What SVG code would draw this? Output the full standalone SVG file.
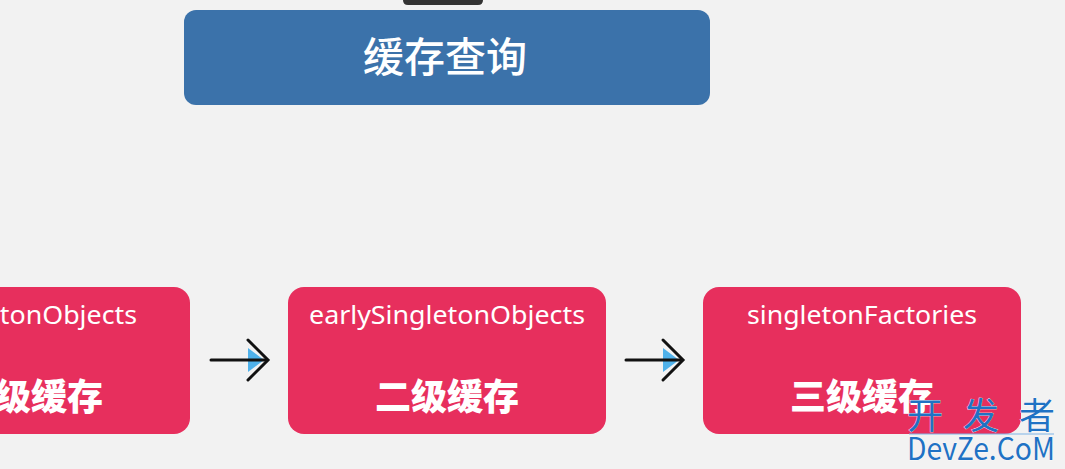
<svg xmlns="http://www.w3.org/2000/svg" width="1065" height="469" viewBox="0 0 1065 469">
<style>
.bg{fill:#f2f2f2}
.red{fill:#e72f5d}
.lbl{font-family:"Noto Sans","Liberation Sans","Noto Sans CJK SC",sans-serif;font-size:26px;fill:#fff;text-anchor:middle}
.big{font-family:"Noto Sans CJK SC","Noto Sans",sans-serif;font-size:36px;font-weight:900;fill:#fff;text-anchor:middle}
.ln{stroke:#111;stroke-width:3;fill:none;stroke-linecap:round;stroke-linejoin:miter}
.tri{fill:#4fb1ea}
.wm{font-family:"Noto Sans CJK SC","Noto Sans",sans-serif;fill:#1f72c4;stroke:#fff;stroke-width:0.6;paint-order:stroke}
</style>
<rect class="bg" x="0" y="0" width="1065" height="469"/>
<path d="M403 0 H483 V0 Q483 5 478 5 H408 Q403 5 403 0 Z" fill="#333"/>
<g id="title">
<rect x="184" y="10" width="526" height="95" rx="12" fill="#3b72aa"/>
<text x="445" y="72" font-family="Noto Sans CJK SC,sans-serif" font-size="41" font-weight="500" fill="#fff" text-anchor="middle">缓存查询</text>
</g>
<g id="node1">
<rect class="red" x="-128" y="287" width="318" height="147" rx="16"/>
<text class="lbl" x="31" y="324" textLength="212" lengthAdjust="spacingAndGlyphs">singletonObjects</text>
<text class="big" x="31" y="410">一级缓存</text>
</g>
<g id="node2">
<rect class="red" x="288" y="287" width="318" height="147" rx="16"/>
<text class="lbl" x="447" y="324" textLength="276" lengthAdjust="spacingAndGlyphs">earlySingletonObjects</text>
<text class="big" x="447" y="410">二级缓存</text>
</g>
<g id="node3">
<rect class="red" x="703" y="287" width="318" height="147" rx="16"/>
<text class="lbl" x="862" y="324" textLength="230" lengthAdjust="spacingAndGlyphs">singletonFactories</text>
<text class="big" x="862" y="410">三级缓存</text>
</g>
<g id="connectors">
<polygon class="tri" points="248,348 264,360 248,372"/>
<line class="ln" x1="211" y1="360" x2="267" y2="360"/>
<polyline class="ln" points="248,340 268,360 248,380"/>
<polygon class="tri" points="663,348 679,360 663,372"/>
<line class="ln" x1="626" y1="360" x2="682" y2="360"/>
<polyline class="ln" points="663,340 683,360 663,380"/>
</g>
<g id="watermark">
<text class="wm" x="907" y="429" font-size="36" textLength="148" lengthAdjust="spacing">开 发 者</text>
<line x1="909" y1="434" x2="1054" y2="434" stroke="#7fb4e6" stroke-width="1"/>
<text class="wm" x="907" y="460" font-size="31" textLength="148" lengthAdjust="spacingAndGlyphs">DevZe.CoM</text>
</g>
</svg>
